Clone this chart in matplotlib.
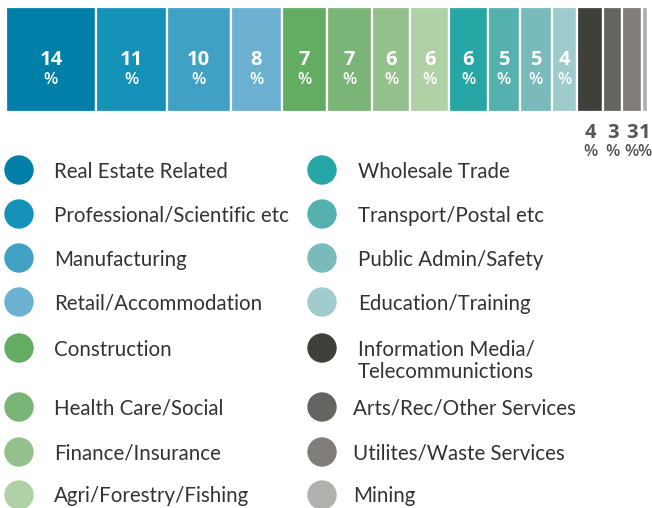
import matplotlib
matplotlib.use("Agg")
import matplotlib.pyplot as plt
from matplotlib.transforms import blended_transform_factory
from matplotlib.patches import Circle

categories = [
    "Real Estate Related", "Professional/Scientific etc", "Manufacturing",
    "Retail/Accommodation", "Construction", "Health Care/Social",
    "Finance/Insurance", "Agri/Forestry/Fishing", "Wholesale Trade",
    "Transport/Postal etc", "Public Admin/Safety", "Education/Training",
    "Information Media/\nTelecommunictions", "Arts/Rec/Other Services",
    "Utilites/Waste Services", "Mining",
]
values = [14, 11, 10, 8, 7, 7, 6, 6, 6, 5, 5, 4, 4, 3, 3, 1]
colors = [
    "#0080a8", "#1592b8", "#40a1c4", "#6cb1d1",
    "#62ad62", "#7ab577", "#93c08b", "#b0d0a6",
    "#26a6a4", "#55b1ae", "#78bbba", "#a0cbcc",
    "#40403b", "#656461", "#807d7a", "#b1b0ac",
]

W, H = 652, 508
fig = plt.figure(figsize=(W / 100, H / 100), dpi=100)

# ---- stacked bar ----
bx0, bx1, by0, by1 = 6, 648, 7, 112
ax = fig.add_axes([bx0 / W, 1 - by1 / H, (bx1 - bx0) / W, (by1 - by0) / H])
lefts = []
acc = 0
for v in values:
    lefts.append(acc)
    acc += v
ax.barh([0] * len(values), values, left=lefts, color=colors, height=1.0,
        edgecolor="white", linewidth=1.6)
ax.set_xlim(0, sum(values))
ax.set_ylim(-0.5, 0.5)
ax.axis("off")

fam = ["Open Sans", "DejaVu Sans"]
trans_fig = blended_transform_factory(ax.transData, fig.transFigure)
for i, (l, v) in enumerate(zip(lefts, values)):
    cx = l + v / 2
    if i < 12:
        col, ny, py = "white", 1 - 60 / H, 1 - 80 / H
    else:
        col, ny, py = "#555555", 1 - 133 / H, 1 - 152 / H
    ax.text(cx, ny, f"{v}", color=col, ha="center", va="center",
            fontsize=14.5, family=fam, fontweight="bold", transform=trans_fig)
    ax.text(cx, py, "%", color=col, ha="center", va="center",
            fontsize=12, family=fam, fontweight="semibold", transform=trans_fig)

# ---- legend ----
lax = fig.add_axes([0, 0, 1, 1])
lax.set_xlim(0, W)
lax.set_ylim(H, 0)
lax.axis("off")
lax.set_zorder(-1)

row_y = [170, 214, 258, 302, 348, 407, 452, 495]
col_circle_x = [19, 322]
col_text_x = [[54] * 8, [358, 358, 358, 358, 358, 353, 353, 353]]
for i, (name, c) in enumerate(zip(categories, colors)):
    col = i // 8
    row = i % 8
    y = row_y[row]
    lax.add_patch(Circle((col_circle_x[col], y), 14, color=c, clip_on=False))
    for k, line in enumerate(name.split("\n")):
        lax.text(col_text_x[col][row], y + 1.5 + 23 * k, line, ha="left", va="center",
                 fontsize=14.8, color="#333333", family=["Lato", "DejaVu Sans"])

fig.savefig("out.png", dpi=100)
